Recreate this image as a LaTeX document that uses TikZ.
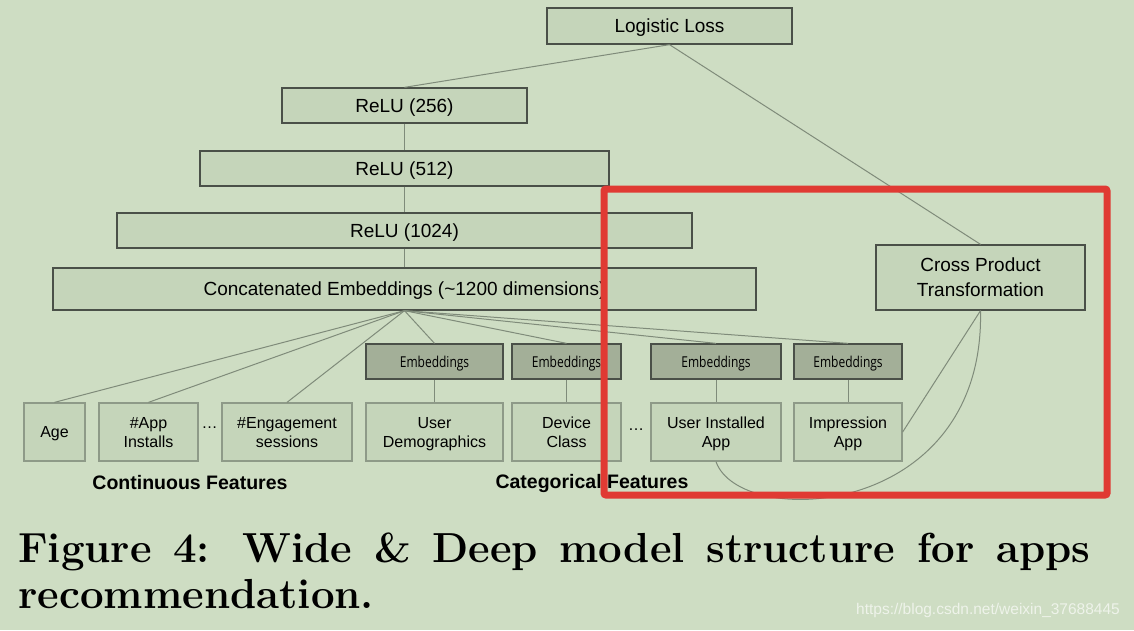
\documentclass[tikz,border=0pt]{standalone}
\usepackage{fontspec}
\setsansfont{Liberation Sans}
\newfontfamily\condfont[FakeStretch=0.8]{Open Sans}
\definecolor{bg}{HTML}{CEDDC3}
\definecolor{boxfill}{HTML}{C5D5BA}
\definecolor{embfill}{HTML}{A3AF98}
\definecolor{boxline}{HTML}{4A5048}
\definecolor{featline}{HTML}{8E9A88}
\definecolor{connline}{HTML}{7F8B7A}
\definecolor{redc}{HTML}{E03A33}
\definecolor{wmc}{HTML}{EEF3EA}
\tikzset{
  box/.style={draw=boxline, fill=boxfill, line width=1.3pt, inner sep=0pt, text depth=0pt, align=center, font=\sffamily\fontsize{19}{25}\selectfont},
  feat/.style={draw=featline, fill=boxfill, line width=1.3pt, inner sep=0pt, text depth=0pt, align=center, minimum height=58pt, font=\sffamily\fontsize{16}{19}\selectfont},
  emb/.style={draw=boxline, fill=embfill, line width=1.3pt, inner sep=0pt, text depth=0pt, minimum height=35pt, font=\condfont\fontsize{15}{18}\selectfont},
  conn/.style={draw=connline, line width=1pt},
  grp/.style={inner sep=0pt, font=\sffamily\bfseries\fontsize{19.5}{22}\selectfont},
  dotsl/.style={inner sep=0pt, font=\sffamily\fontsize{16}{19}\selectfont},
  capl/.style={inner sep=0pt, anchor=base west, font=\rmfamily\bfseries\fontsize{42}{50}\selectfont},
  redbox/.style={draw=redc, line width=7pt, rounded corners=2pt}
}
\begin{document}
\begin{tikzpicture}[x=1pt,y=-1pt]
\fill[bg] (0,0) rectangle (1134,630);
\useasboundingbox (0,0) rectangle (1134,630);

% deep tower
\node[box, minimum width=245pt, minimum height=36pt] (loss) at (669.5,26) {Logistic Loss};
\node[box, minimum width=245pt, minimum height=35pt] (r256) at (404.5,105.5) {ReLU (256)};
\node[box, minimum width=409pt, minimum height=35pt] (r512) at (404.5,168.5) {ReLU (512)};
\node[box, minimum width=575pt, minimum height=35pt] (r1024) at (404.5,230.5) {ReLU (1024)};
\node[box, minimum width=703pt, minimum height=42pt] (concat) at (404.5,289) {Concatenated Embeddings (\textasciitilde 1200 dimensions)};
\node[box, minimum width=209pt, minimum height=65pt] (cross) at (980.5,277.5) {Cross Product\\Transformation};

% embeddings
\node[emb, minimum width=137pt] (e1) at (434.5,361.5) {Embeddings};
\node[emb, minimum width=109pt] (e2) at (566.5,361.5) {Embeddings};
\node[emb, minimum width=130pt] (e3) at (716,361.5) {Embeddings};
\node[emb, minimum width=108pt] (e4) at (848,361.5) {Embeddings};

% features
\node[feat, minimum width=61pt] (age) at (54.5,432) {Age};
\node[feat, minimum width=99pt] (app) at (148.5,432) {\#App\\Installs};
\node[feat, minimum width=130pt] (eng) at (287,432) {\#Engagement\\sessions};
\node[feat, minimum width=137pt] (ud) at (434.5,432) {User\\Demographics};
\node[feat, minimum width=109pt] (dc) at (566.5,432) {Device\\Class};
\node[feat, minimum width=130pt] (uia) at (716,432) {User Installed\\App};
\node[feat, minimum width=108pt] (ia) at (848,432) {Impression\\App};

\node[dotsl] (d1) at (209.5,428) {\ldots};
\node[dotsl] (d2) at (636,430) {\ldots};

\node[grp] (cont) at (190,483) {Continuous Features};
\node[grp] (cat) at (592,483) {Categorical Features};

% connectors
\draw[conn] (loss.south) -- (r256.north);
\draw[conn] (loss.south) -- (cross.north);
\draw[conn] (r256.south) -- (r512.north);
\draw[conn] (r512.south) -- (r1024.north);
\draw[conn] (r1024.south) -- (concat.north);
\foreach \t in {age,app,eng,e1,e2,e3,e4}{
  \draw[conn] (concat.south) -- (\t.north);
}
\draw[conn] (e1.south) -- (ud.north);
\draw[conn] (e2.south) -- (dc.north);
\draw[conn] (e3.south) -- (uia.north);
\draw[conn] (e4.south) -- (ia.north);
\draw[conn] (cross.south) -- (ia.east);
\draw[conn] (cross.south) .. controls (985,520) and (740,530) .. (uia.south);

% highlight
\draw[redbox] (604,189) rectangle (1107,495);

% caption
\node[capl] (cap1) at (18,562) {\makebox[1072pt][s]{Figure 4: Wide \& Deep model structure for apps}};
\node[capl] (cap2) at (18,608) {recommendation.};
\node[inner sep=0pt, text=wmc, font=\sffamily\fontsize{15.5}{17}\selectfont] (wm) at (988,610) {https://blog.csdn.net/weixin\_37688445};
\end{tikzpicture}
\end{document}
